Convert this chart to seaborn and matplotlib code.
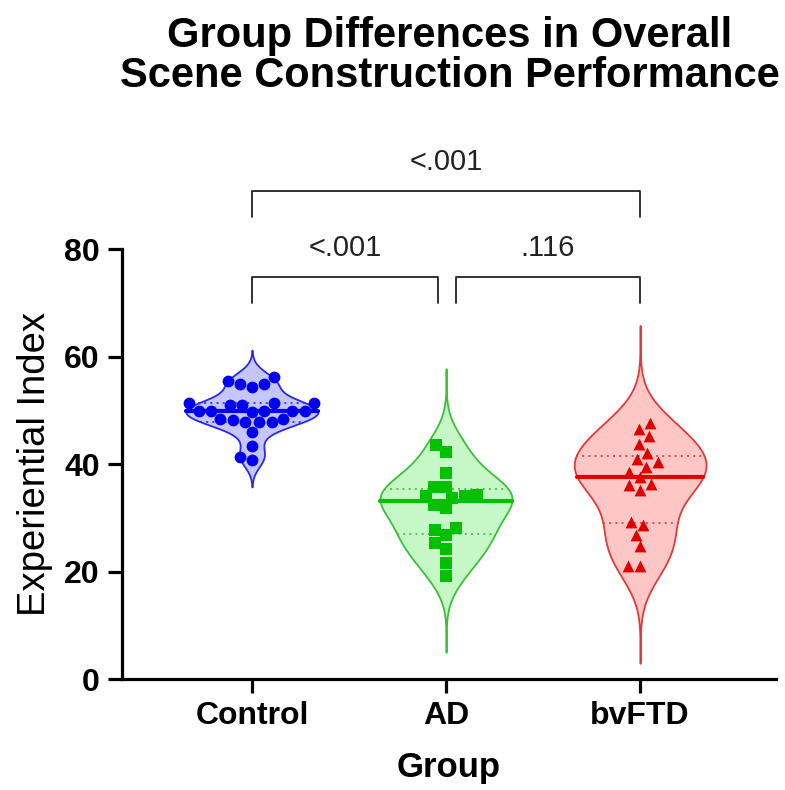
import numpy as np
import pandas as pd
import matplotlib
matplotlib.use("Agg")
import matplotlib.pyplot as plt
import seaborn as sns

# ---- data ----
groups = ["Control", "AD", "bvFTD"]
control = [56.2, 55.4, 54.9, 54.9, 54.3, 51.3, 51.3, 51.3, 51.0, 51.0,
           49.9, 49.9, 49.9, 49.9, 49.9, 49.7, 48.4, 48.4, 48.2, 47.8,
           47.8, 47.8, 46.0, 43.3, 41.3, 40.7]
ad = [43.5, 42.3, 38.3, 35.8, 35.8, 34.2, 34.0, 34.0, 33.7, 32.4,
      31.8, 28.1, 27.7, 26.8, 25.3, 24.2, 21.6, 19.2]
bvftd = [47.7, 46.6, 45.2, 43.8, 42.1, 40.9, 40.3, 39.5, 38.6, 37.6,
         36.3, 36.1, 35.2, 29.3, 28.7, 26.8, 24.7, 21.0, 21.0]
yticks = [0, 20, 40, 60, 80]
comparisons = [("Control", "bvFTD", "<.001"), ("Control", "AD", "<.001"), ("AD", "bvFTD", ".116")]

df = pd.DataFrame({
    "Group": ["Control"] * len(control) + ["AD"] * len(ad) + ["bvFTD"] * len(bvftd),
    "Experiential Index": control + ad + bvftd,
})

style = {
    "Control": dict(fill="#c6c6ff", edge="#2a2ae6", dark="#0000f0", marker="o", cut=2.7, bw=0.9),
    "AD": dict(fill="#c6f7c6", edge="#3cc03c", dark="#00c000", marker="s", cut=3.8, bw=1.0),
    "bvFTD": dict(fill="#ffc6c6", edge="#e03a3a", dark="#e00000", marker="^", cut=3.9, bw=1.0),
}

sns.set_theme(style="ticks")
plt.rcParams["font.family"] = ["Liberation Sans", "DejaVu Sans"]
plt.rcParams["text.color"] = "black"
plt.rcParams["axes.labelcolor"] = "black"

fig = plt.figure(figsize=(7.85, 7.90), dpi=100)
ax = fig.add_axes([0.1554, 0.1405, 0.8331, 0.5443])

for g in groups:
    s = style[g]
    sub = df[df["Group"] == g]
    n0 = len(ax.lines)
    sns.violinplot(data=sub, x="Group", y="Experiential Index", order=groups,
                   color=s["fill"], linecolor=s["edge"], linewidth=1.3,
                   inner="quart", cut=s["cut"], bw_adjust=s["bw"], width=0.68,
                   density_norm="width", saturation=1, ax=ax)
    med = np.median(sub["Experiential Index"])
    for ln in ax.lines[n0:]:
        yd = np.asarray(ln.get_ydata(), dtype=float)
        if np.allclose(yd, med):
            ln.set_linestyle("-")
            ln.set_linewidth(3.0)
            ln.set_color(s["dark"])
        else:
            ln.set_linestyle((0, (1.2, 2.5)))
            ln.set_linewidth(1.2)
            ln.set_color(s["edge"])
        ln.set_zorder(3)

for g in groups:
    s = style[g]
    sub = df[df["Group"] == g]
    sns.swarmplot(data=sub, x="Group", y="Experiential Index", order=groups,
                  marker=s["marker"], color=s["dark"], size=8.5, linewidth=0,
                  ax=ax, zorder=4)

ax.set_xlim(-0.67, 2.70)
ax.set_ylim(0, 80)
ax.set_yticks(yticks)
for sp in ["top", "right"]:
    ax.spines[sp].set_visible(False)
for sp in ["left", "bottom"]:
    ax.spines[sp].set_linewidth(2.3)
    ax.spines[sp].set_color("black")
ax.tick_params(axis="both", length=10, width=2.3, labelsize=23, colors="black",
               labelcolor="black", pad=6)
for lbl in ax.get_xticklabels() + ax.get_yticklabels():
    lbl.set_fontweight("bold")

ax.set_xlabel("Group", fontsize=25, fontweight="bold", labelpad=14, color="black")
ax.set_ylabel("Experiential Index", fontsize=27.5, labelpad=8, color="black")

# significance brackets
brackets = [(0.0, 2.0, 86.0, 90.8, 96.2), (0.0, 0.96, 70.0, 74.8, 80.2), (1.05, 2.0, 70.0, 74.8, 80.2)]
for (a, b, lab), (x0, x1, ylo, yhi, ytxt) in zip(comparisons, brackets):
    ax.plot([x0, x0, x1, x1], [ylo, yhi, yhi, ylo], color="#222222", lw=1.3, clip_on=False)
    ax.text((x0 + x1) / 2, ytxt, lab, ha="center", va="center", fontsize=21,
            color="#222222", clip_on=False)

fig.text(0.573, 0.929, "Group Differences in Overall\nScene Construction Performance",
         ha="center", va="center", fontsize=30, fontweight="bold", linespacing=1.02,
         color="black")

fig.savefig("out.png", dpi=100, facecolor="white")
